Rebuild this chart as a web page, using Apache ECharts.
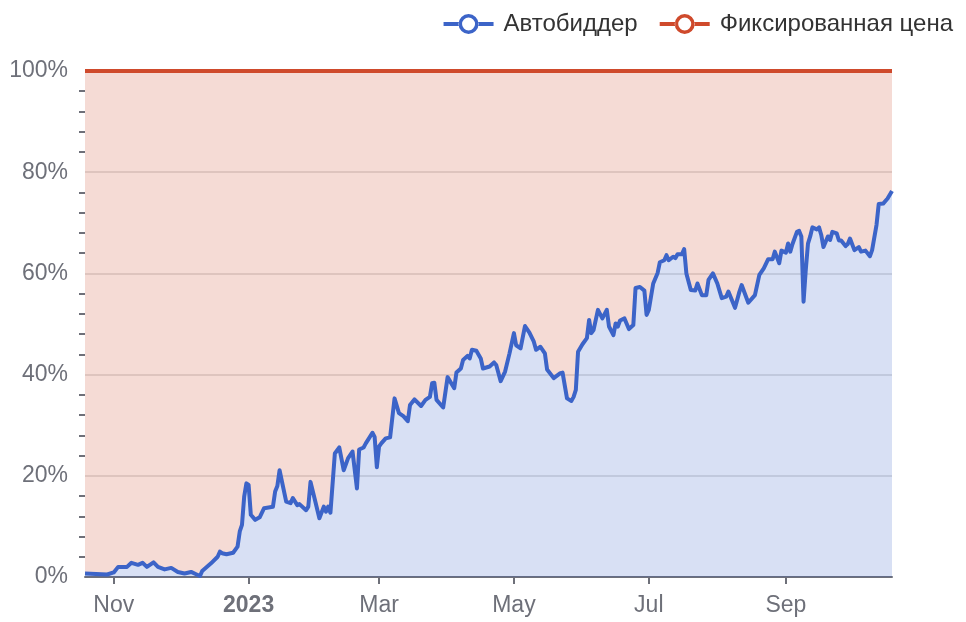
<!DOCTYPE html>
<html>
<head>
<meta charset="utf-8">
<script src="https://cdn.jsdelivr.net/npm/echarts@6/dist/echarts.min.js"></script>
<style>
  html, body { margin: 0; padding: 0; background: #fff; }
  #chart { width: 966px; height: 622px; }
</style>
</head>
<body>
<div id="chart"></div>
<script>
// даты наблюдений (ось X)
const dates = [
  "2022-10-19", "2022-10-24", "2022-10-29", "2022-11-01", "2022-11-03", "2022-11-07", "2022-11-09", "2022-11-12",
  "2022-11-14", "2022-11-16", "2022-11-19", "2022-11-21", "2022-11-24", "2022-11-27", "2022-11-30", "2022-12-03",
  "2022-12-06", "2022-12-08", "2022-12-10", "2022-12-11", "2022-12-15", "2022-12-18", "2022-12-19", "2022-12-20",
  "2022-12-22", "2022-12-25", "2022-12-27", "2022-12-28", "2022-12-29", "2022-12-30", "2022-12-31", "2023-01-01",
  "2023-01-02", "2023-01-04", "2023-01-06", "2023-01-08", "2023-01-12", "2023-01-13", "2023-01-14", "2023-01-15",
  "2023-01-18", "2023-01-20", "2023-01-21", "2023-01-23", "2023-01-24", "2023-01-27", "2023-01-28", "2023-01-29",
  "2023-01-31", "2023-02-02", "2023-02-04", "2023-02-05", "2023-02-06", "2023-02-07", "2023-02-09", "2023-02-11",
  "2023-02-13", "2023-02-15", "2023-02-17", "2023-02-19", "2023-02-20", "2023-02-22", "2023-02-23", "2023-02-24",
  "2023-02-26", "2023-02-27", "2023-02-28", "2023-03-01", "2023-03-02", "2023-03-04", "2023-03-06", "2023-03-08",
  "2023-03-10", "2023-03-12", "2023-03-14", "2023-03-15", "2023-03-17", "2023-03-20", "2023-03-22", "2023-03-24",
  "2023-03-25", "2023-03-26", "2023-03-27", "2023-03-30", "2023-04-01", "2023-04-04", "2023-04-05", "2023-04-07",
  "2023-04-08", "2023-04-10", "2023-04-11", "2023-04-12", "2023-04-14", "2023-04-16", "2023-04-17", "2023-04-20",
  "2023-04-22", "2023-04-23", "2023-04-25", "2023-04-27", "2023-04-29", "2023-05-01", "2023-05-02", "2023-05-04",
  "2023-05-06", "2023-05-08", "2023-05-10", "2023-05-11", "2023-05-13", "2023-05-15", "2023-05-16", "2023-05-19",
  "2023-05-22", "2023-05-23", "2023-05-25", "2023-05-27", "2023-05-28", "2023-05-29", "2023-05-30", "2023-06-01",
  "2023-06-03", "2023-06-04", "2023-06-05", "2023-06-06", "2023-06-08", "2023-06-10", "2023-06-12", "2023-06-13",
  "2023-06-15", "2023-06-16", "2023-06-17", "2023-06-18", "2023-06-20", "2023-06-22", "2023-06-24", "2023-06-25",
  "2023-06-27", "2023-06-29", "2023-06-30", "2023-07-01", "2023-07-03", "2023-07-05", "2023-07-06", "2023-07-08",
  "2023-07-09", "2023-07-10", "2023-07-12", "2023-07-13", "2023-07-14", "2023-07-16", "2023-07-17", "2023-07-18",
  "2023-07-20", "2023-07-22", "2023-07-23", "2023-07-25", "2023-07-27", "2023-07-28", "2023-07-30", "2023-08-01",
  "2023-08-03", "2023-08-05", "2023-08-06", "2023-08-09", "2023-08-11", "2023-08-12", "2023-08-15", "2023-08-18",
  "2023-08-20", "2023-08-22", "2023-08-24", "2023-08-26", "2023-08-27", "2023-08-29", "2023-08-30", "2023-09-01",
  "2023-09-02", "2023-09-03", "2023-09-04", "2023-09-06", "2023-09-07", "2023-09-08", "2023-09-09", "2023-09-10",
  "2023-09-11", "2023-09-12", "2023-09-13", "2023-09-15", "2023-09-16", "2023-09-17", "2023-09-18", "2023-09-20",
  "2023-09-21", "2023-09-22", "2023-09-24", "2023-09-25", "2023-09-26", "2023-09-28", "2023-09-29", "2023-09-30",
  "2023-10-02", "2023-10-04", "2023-10-05", "2023-10-07", "2023-10-09", "2023-10-10", "2023-10-12", "2023-10-13",
  "2023-10-15", "2023-10-17", "2023-10-19",
];

// доля автобиддера, %
const autobidShare = [
  0.7, 0.6, 0.5, 0.9, 2.0, 2.0, 2.8, 2.4,
  2.8, 2.0, 2.9, 2.0, 1.5, 1.8, 1.0, 0.7,
  1.0, 0.6, 0.2, 1.2, 2.7, 4.0, 5.0, 4.7,
  4.5, 4.8, 6.0, 9.0, 10.3, 15.9, 18.5, 18.2,
  12.3, 11.3, 11.8, 13.6, 13.9, 16.9, 18.0, 21.1,
  14.9, 14.6, 15.6, 14.2, 14.4, 13.2, 13.9, 18.8,
  15.2, 11.6, 13.9, 12.9, 13.9, 12.7, 24.4, 25.6,
  21.1, 23.5, 24.8, 17.5, 25.2, 25.6, 26.4, 27.1,
  28.5, 27.7, 21.7, 25.8, 26.4, 27.4, 27.6, 35.3,
  32.4, 31.8, 30.8, 34.0, 35.1, 33.8, 35.0, 35.6,
  38.3, 38.4, 35.0, 33.5, 39.5, 37.3, 40.4, 41.2,
  42.9, 43.7, 43.2, 44.9, 44.7, 43.2, 41.2, 41.6,
  42.4, 41.9, 38.7, 40.6, 44.2, 48.2, 45.8, 45.2,
  49.6, 48.3, 46.5, 44.9, 45.5, 44.2, 41.0, 39.3,
  40.3, 40.4, 35.3, 34.8, 35.6, 37.0, 44.5, 46.0,
  47.2, 50.8, 48.2, 48.8, 52.8, 51.1, 52.8, 49.5,
  47.8, 50.1, 49.5, 50.7, 51.1, 49.0, 49.8, 57.1,
  57.3, 56.6, 51.8, 52.8, 58.0, 60.1, 62.2, 62.6,
  63.6, 62.6, 63.3, 63.0, 63.8, 63.8, 64.8, 60.0,
  56.7, 56.6, 58.0, 55.7, 55.7, 58.7, 60.0, 58.0,
  55.1, 55.4, 56.4, 53.2, 56.4, 57.7, 54.2, 55.7,
  59.7, 61.0, 62.8, 62.8, 64.3, 62.0, 64.5, 64.1,
  65.9, 64.3, 65.8, 68.2, 68.4, 67.3, 54.4, 60.7,
  65.9, 67.3, 69.1, 68.7, 69.1, 67.6, 65.2, 67.3,
  66.6, 68.2, 67.9, 66.5, 66.5, 65.4, 65.8, 66.9,
  64.6, 65.2, 64.3, 64.5, 63.4, 64.6, 69.6, 73.7,
  73.8, 74.8, 76.3,
];

const seriesNames = ["Автобиддер", "Фиксированная цена"];
const axisMin = "2022-10-19";
const axisMax = "2023-10-19";

const color = {
  blue: "#3c64c8",
  red: "#cf4a2c",
  label: "#6e7079",
  split: "#d8d8d8",
};
const fontFamily = "'Liberation Sans', Arial, sans-serif";

// иконка легенды: линия с пустым кружком (кольцо + две полоски)
const legendIcon =
  "path://M0,8h15.5v4H0Z M34.5,8H50v4H34.5Z " +
  "M15,10a10,10 0 1,0 20,0a10,10 0 1,0 -20,0Z " +
  "M18.5,10a6.5,6.5 0 1,1 13,0a6.5,6.5 0 1,1 -13,0Z";

// фиксированная цена — остаток до 100%
const autobidData = dates.map((d, i) => [d, autobidShare[i]]);
const fixedData = dates.map((d, i) => [d, +(100 - autobidShare[i]).toFixed(1)]);

function getOption() {
  return {
    animation: false,
    textStyle: { fontFamily },
    legend: {
      data: seriesNames.map((name) => ({ name, icon: legendIcon })),
      top: 7,
      right: 8,
      itemWidth: 50,
      itemHeight: 20,
      itemGap: 22,
      textStyle: {
        fontSize: 24,
        color: "#333",
        fontFamily,
        padding: [0, 0, 0, 5],
      },
    },
    grid: {
      top: 71,
      left: 85,
      right: 74,
      bottom: 45,
      containLabel: false,
    },
    xAxis: {
      type: "time",
      min: axisMin,
      max: axisMax,
      splitNumber: 6,
      axisLine: {
        lineStyle: { color: color.label, width: 2 },
      },
      axisTick: {
        show: true,
        length: 7,
        lineStyle: { color: color.label, width: 2 },
      },
      splitLine: { show: false },
      axisLabel: {
        fontSize: 23,
        color: color.label,
        margin: 17,
        fontFamily,
      },
    },
    yAxis: {
      type: "value",
      min: 0,
      max: 100,
      interval: 20,
      axisLine: { show: false },
      axisTick: { show: false },
      minorTick: {
        show: true,
        splitNumber: 5,
        length: 6,
        lineStyle: { color: color.label, width: 2 },
      },
      axisLabel: {
        formatter: "{value}%",
        fontSize: 23,
        color: color.label,
        margin: 17,
        fontFamily,
        padding: [6, 0, 0, 0],
      },
      splitLine: {
        lineStyle: { color: color.split, width: 1.5 },
      },
    },
    series: [
      {
        name: seriesNames[0],
        type: "line",
        stack: "share",
        showSymbol: false,
        lineStyle: { color: color.blue, width: 4, join: "round" },
        itemStyle: { color: color.blue },
        areaStyle: { color: color.blue, opacity: 0.2 },
        data: autobidData,
      },
      {
        name: seriesNames[1],
        type: "line",
        stack: "share",
        showSymbol: false,
        lineStyle: { color: color.red, width: 4 },
        itemStyle: { color: color.red },
        areaStyle: { color: color.red, opacity: 0.2 },
        data: fixedData,
      },
    ],
  };
}

const chart = echarts.init(document.getElementById("chart"), null, { renderer: "canvas" });
chart.setOption(getOption());
</script>
</body>
</html>
